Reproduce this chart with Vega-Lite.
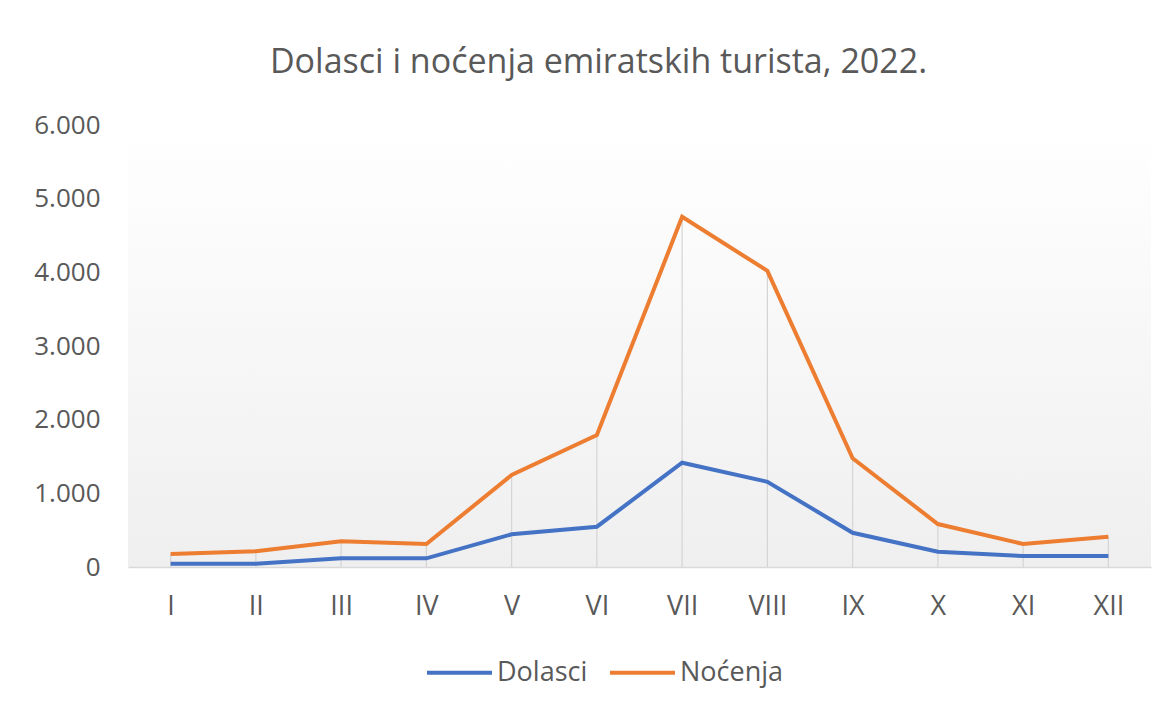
{
  "$schema": "https://vega.github.io/schema/vega-lite/v6.json",
  "width": 1023,
  "height": 442,
  "autosize": {"type": "none"},
  "padding": {"left": 128, "top": 125, "right": 23, "bottom": 142},
  "background": "white",
  "title": {
    "text": "Dolasci i noćenja emiratskih turista, 2022.",
    "font": "Open Sans",
    "fontSize": 34,
    "fontWeight": "normal",
    "color": "#595959",
    "anchor": "middle",
    "dx": -41,
    "offset": 32
  },
  "config": {
    "font": "Open Sans",
    "view": {
      "stroke": null,
      "fill": {
        "gradient": "linear",
        "x1": 0, "y1": 0, "x2": 0, "y2": 1,
        "stops": [
          {"offset": 0, "color": "#ffffff"},
          {"offset": 1, "color": "#efefef"}
        ]
      }
    }
  },
  "data": {
    "values": [
      {"mjesec": "I", "serija": "Dolasci", "vrijednost": 45},
      {"mjesec": "II", "serija": "Dolasci", "vrijednost": 45},
      {"mjesec": "III", "serija": "Dolasci", "vrijednost": 118},
      {"mjesec": "IV", "serija": "Dolasci", "vrijednost": 118},
      {"mjesec": "V", "serija": "Dolasci", "vrijednost": 444},
      {"mjesec": "VI", "serija": "Dolasci", "vrijednost": 547},
      {"mjesec": "VII", "serija": "Dolasci", "vrijednost": 1415},
      {"mjesec": "VIII", "serija": "Dolasci", "vrijednost": 1157},
      {"mjesec": "IX", "serija": "Dolasci", "vrijednost": 465},
      {"mjesec": "X", "serija": "Dolasci", "vrijednost": 208},
      {"mjesec": "XI", "serija": "Dolasci", "vrijednost": 149},
      {"mjesec": "XII", "serija": "Dolasci", "vrijednost": 149},
      {"mjesec": "I", "serija": "Noćenja", "vrijednost": 176},
      {"mjesec": "II", "serija": "Noćenja", "vrijednost": 213},
      {"mjesec": "III", "serija": "Noćenja", "vrijednost": 349},
      {"mjesec": "IV", "serija": "Noćenja", "vrijednost": 312},
      {"mjesec": "V", "serija": "Noćenja", "vrijednost": 1248},
      {"mjesec": "VI", "serija": "Noćenja", "vrijednost": 1791},
      {"mjesec": "VII", "serija": "Noćenja", "vrijednost": 4753},
      {"mjesec": "VIII", "serija": "Noćenja", "vrijednost": 4020},
      {"mjesec": "IX", "serija": "Noćenja", "vrijednost": 1475},
      {"mjesec": "X", "serija": "Noćenja", "vrijednost": 583},
      {"mjesec": "XI", "serija": "Noćenja", "vrijednost": 312},
      {"mjesec": "XII", "serija": "Noćenja", "vrijednost": 411}
    ]
  },
  "encoding": {
    "x": {
      "field": "mjesec",
      "type": "ordinal",
      "sort": ["I", "II", "III", "IV", "V", "VI", "VII", "VIII", "IX", "X", "XI", "XII"],
      "scale": {"type": "point", "padding": 0.5},
      "axis": {
        "title": null,
        "labelAngle": 0,
        "labelFontSize": 27,
        "labelColor": "#595959",
        "labelPadding": 26,
        "ticks": false,
        "grid": false,
        "domainColor": "#d9d9d9",
        "domainWidth": 1.5
      }
    },
    "y": {
      "field": "vrijednost",
      "type": "quantitative",
      "scale": {"domain": [0, 6000], "nice": false},
      "axis": {
        "title": null,
        "values": [0, 1000, 2000, 3000, 4000, 5000, 6000],
        "labelExpr": "replace(format(datum.value, ',d'), ',', '.')",
        "labelFontSize": 26,
        "labelColor": "#595959",
        "labelPadding": 28,
        "ticks": false,
        "domain": false,
        "grid": false
      }
    }
  },
  "layer": [
    {
      "transform": [{"filter": "datum.serija === 'Noćenja'"}],
      "mark": {"type": "rule", "color": "#d4d4d4", "strokeWidth": 1.2},
      "encoding": {
        "y2": {"datum": 0}
      }
    },
    {
      "mark": {"type": "line", "strokeWidth": 4},
      "encoding": {
        "color": {
          "field": "serija",
          "type": "nominal",
          "scale": {"domain": ["Dolasci", "Noćenja"], "range": ["#4472C4", "#ED7D31"]},
          "legend": {
            "title": null,
            "orient": "none",
            "direction": "horizontal",
            "legendX": 297,
            "legendY": 513,
            "symbolType": "stroke",
            "symbolSize": 4225,
            "symbolStrokeWidth": 4,
            "labelFontSize": 27,
            "labelColor": "#595959",
            "labelOffset": 3,
            "columnPadding": 14
          }
        }
      }
    }
  ]
}
